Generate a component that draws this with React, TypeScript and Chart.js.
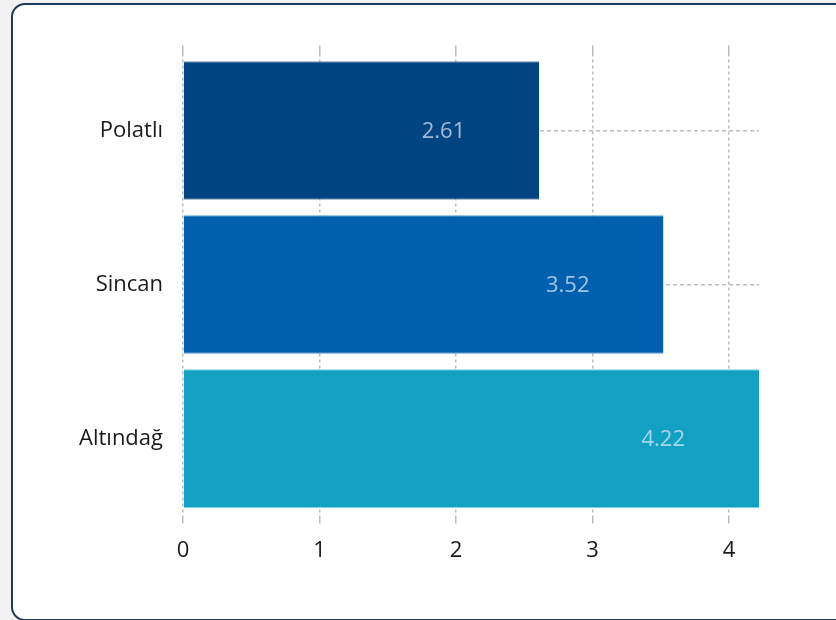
import React, { useEffect, useRef } from "react";
import { Chart, registerables } from "chart.js";

Chart.register(...registerables);

const categories = ["Polatlı", "Sincan", "Altındağ"];
const values = [2.61, 3.52, 4.22];
const barColors = ["#004481", "#005faf", "#12a0c3"];
const barEdgeColors = ["#6a8fb8", "#5d97cf", "#7cd0e2"];
const xTickValues = [0, 1, 2, 3, 4];
const xMax = 4.22;

const FONT = "'Open Sans', 'Noto Sans', sans-serif";
const GRID = "#bdbdbd";

const valueLabels = {
  id: "valueLabels",
  afterDatasetsDraw(chart: any) {
    const ctx = chart.ctx;
    const meta = chart.getDatasetMeta(0);
    ctx.save();
    ctx.font = `22px ${FONT}`;
    ctx.fillStyle = "rgba(235,242,255,0.68)";
    ctx.textAlign = "right";
    ctx.textBaseline = "middle";
    meta.data.forEach((bar: any, i: number) => {
      const v = chart.data.datasets[0].data[i];
      ctx.fillText(v.toFixed(2), bar.x - 74, bar.y + 1);
    });
    ctx.restore();
  },
};

export default function App() {
  const ref = useRef<HTMLCanvasElement>(null);

  useEffect(() => {
    if (!ref.current) return;
    const chart = new Chart(ref.current, {
      type: "bar",
      data: {
        labels: categories,
        datasets: [
          {
            data: values,
            backgroundColor: barColors,
            borderColor: barEdgeColors,
            borderWidth: { top: 1, bottom: 1, left: 0, right: 0 },
            borderSkipped: false,
            categoryPercentage: 1,
            barPercentage: 0.9,
          },
        ],
      },
      plugins: [valueLabels],
      options: {
        indexAxis: "y",
        responsive: false,
        animation: false,
        layout: { padding: { top: 45.5, right: 77, bottom: 42, left: 0 } },
        plugins: { legend: { display: false }, tooltip: { enabled: false } },
        scales: {
          x: {
            type: "linear",
            position: "bottom",
            min: 0,
            max: xMax,
            afterBuildTicks: (scale: any) => {
              scale.ticks = xTickValues.map((v) => ({ value: v }));
            },
            ticks: {
              font: { family: FONT, size: 22 },
              color: "#1a1a1a",
              padding: 14,
            },
            grid: {
              color: GRID,
              lineWidth: 1.5,
              tickLength: 8,
              drawTicks: true,
            },
            border: { display: false, dash: [3, 3] },
          },
          x2: {
            type: "linear",
            position: "top",
            min: 0,
            max: xMax,
            afterBuildTicks: (scale: any) => {
              scale.ticks = xTickValues.map((v) => ({ value: v }));
            },
            ticks: { display: false },
            grid: {
              color: GRID,
              lineWidth: 1.5,
              tickLength: 8,
              drawTicks: true,
              drawOnChartArea: false,
            },
            border: { display: false, dash: [3, 3] },
          },
          y: {
            type: "category",
            afterFit: (scale: any) => {
              scale.width = 183;
            },
            ticks: {
              font: { family: FONT, size: 22 },
              color: "#1a1a1a",
              padding: 20,
            },
            grid: {
              color: GRID,
              lineWidth: 1.5,
              offset: false,
              drawTicks: false,
            },
            border: { display: false, dash: [4, 3] },
          },
        },
      },
    } as any);
    return () => chart.destroy();
  }, []);

  return (
    <div
      style={{
        position: "fixed",
        left: 0,
        top: 0,
        width: 836,
        height: 620,
        overflow: "hidden",
        background: "#f2f2f2",
      }}
    >
      <div
        style={{
          position: "absolute",
          left: 11,
          top: 3,
          width: 860,
          height: 614,
          background: "#ffffff",
          border: "2px solid #1e3a5c",
          borderRadius: 14,
        }}
      />
      <canvas
        ref={ref}
        width={836}
        height={620}
        style={{ position: "absolute", left: 0, top: 0, width: 836, height: 620 }}
      />
    </div>
  );
}
